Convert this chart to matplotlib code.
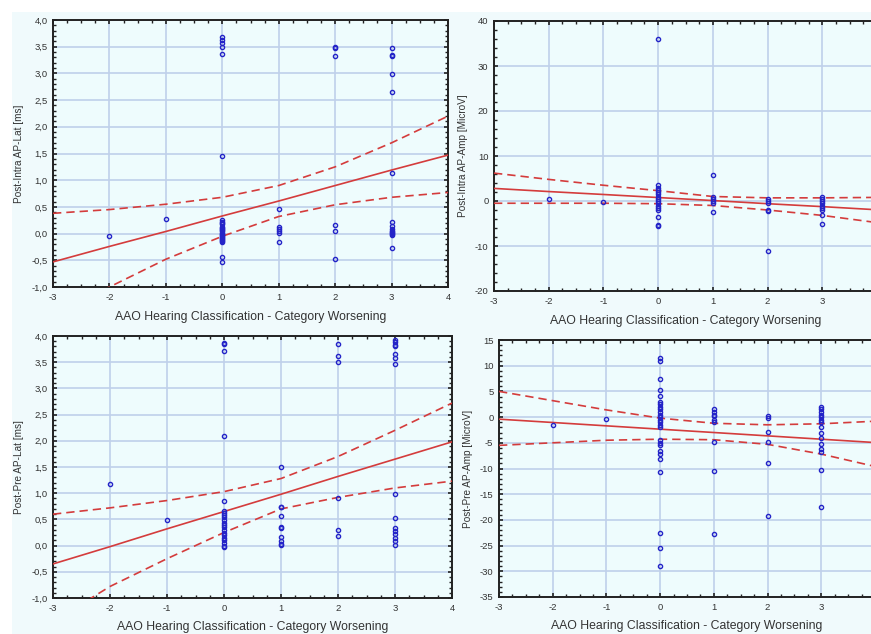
import numpy as np
import matplotlib
matplotlib.use("Agg")
import matplotlib.pyplot as plt
from matplotlib.ticker import MultipleLocator, AutoMinorLocator

plt.rcParams['font.family'] = ['Liberation Sans', 'DejaVu Sans']

XLABEL = "AAO Hearing Classification - Category Worsening"

# fit line / confidence band at x = -3..4
fit_x = [-3, -2, -1, 0, 1, 2, 3, 4]

# top left: Post-Intra AP-Lat [ms]
tl_x = [-2, -1] + [0] * 27 + [1] * 6 + [2] * 6 + [3] * 15
tl_y = [-0.05, 0.27,
        3.68, 3.63, 3.57, 3.50, 3.36, 1.45, 0.25, 0.22, 0.20, 0.18, 0.12, 0.10, 0.08, 0.06,
        0.04, 0.02, 0.0, -0.02, -0.04, -0.06, -0.08, -0.10, -0.12, -0.14, -0.16, -0.43, -0.53,
        0.47, 0.12, 0.08, 0.05, 0.02, -0.15,
        3.49, 3.48, 3.32, 0.16, 0.05, -0.48,
        3.47, 3.34, 3.33, 2.98, 2.66, 1.13, 0.22, 0.15, 0.08, 0.05, 0.03, 0.01, -0.01, -0.03, -0.27]
tl_fit = [-0.53, -0.24, 0.04, 0.33, 0.61, 0.90, 1.19, 1.47]
tl_up = [0.38, 0.45, 0.55, 0.68, 0.90, 1.25, 1.70, 2.20]
tl_lo = [-1.45, -1.00, -0.48, -0.05, 0.32, 0.54, 0.68, 0.77]

# top right: Post-Intra AP-Amp [MicroV]
tr_x = [-2, -1] + [0] * 16 + [1] * 6 + [2] * 6 + [3] * 9
tr_y = [0.5, -0.3,
        36.0, 3.5, 3.0, 2.5, 2.0, 1.5, 1.0, 0.5, 0.0, -0.5, -1.0, -1.5, -2.0, -3.5, -5.3, -5.5,
        5.8, 1.0, 0.5, 0.0, -0.5, -2.5,
        0.5, 0.0, -0.5, -2.0, -2.3, -11.0,
        1.0, 0.5, 0.0, -0.5, -1.0, -1.5, -2.0, -3.0, -5.2]
tr_fit = [2.8, 2.1, 1.45, 0.77, 0.1, -0.6, -1.25, -1.95]
tr_up = [6.2, 4.8, 3.5, 2.3, 1.0, 0.7, 0.7, 0.8]
tr_lo = [-0.5, -0.5, -0.5, -0.6, -1.0, -2.0, -3.2, -4.8]

# bottom left: Post-Pre AP-Lat [ms]
bl_x = [-2, -1] + [0] * 21 + [1] * 10 + [2] * 6 + [3] * 15
bl_y = [1.18, 0.48,
        3.87, 3.85, 3.72, 2.10, 0.85, 0.66, 0.62, 0.58, 0.55, 0.48, 0.44, 0.40, 0.35, 0.30,
        0.25, 0.20, 0.15, 0.10, 0.05, 0.0, -0.03,
        1.50, 0.74, 0.73, 0.56, 0.36, 0.34, 0.17, 0.08, 0.03, 0.02,
        3.84, 3.62, 3.51, 0.90, 0.30, 0.18,
        3.92, 3.88, 3.83, 3.80, 3.65, 3.58, 3.47, 0.98, 0.52, 0.33, 0.28, 0.22, 0.15, 0.08, 0.02]
bl_fit = [-0.35, -0.02, 0.32, 0.65, 0.98, 1.32, 1.65, 1.98]
bl_up = [0.60, 0.72, 0.86, 1.03, 1.28, 1.70, 2.20, 2.72]
bl_lo = [-1.45, -0.78, -0.25, 0.25, 0.70, 0.92, 1.10, 1.23]

# bottom right: Post-Pre AP-Amp [MicroV]
br_x = [-2, -1] + [0] * 26 + [1] * 9 + [2] * 6 + [3] * 15
br_y = [-1.5, -0.3,
        11.5, 11.0, 7.5, 5.3, 4.2, 3.0, 2.5, 2.0, 1.5, 1.0, 0.5, 0.0, -0.5, -1.0, -1.5, -2.0,
        -4.5, -5.0, -5.5, -6.5, -7.2, -8.2, -10.7, -22.5, -25.4, -28.9,
        1.5, 1.0, 0.5, 0.2, -0.5, -1.0, -4.9, -10.5, -22.8,
        0.2, -0.2, -2.9, -4.9, -8.9, -19.2,
        2.0, 1.5, 1.0, 0.5, 0.0, -0.5, -1.0, -2.0, -3.0, -4.0, -5.2, -6.2, -6.7, -10.2, -17.4]
br_fit = [-0.4, -1.05, -1.7, -2.35, -3.0, -3.65, -4.3, -4.95]
br_up = [5.0, 3.2, 1.4, -0.2, -1.2, -1.5, -1.3, -0.8]
br_lo = [-5.5, -5.0, -4.5, -4.3, -4.4, -5.3, -7.2, -9.6]

x_ticks = [-3, -2, -1, 0, 1, 2, 3, 4]
x_labels_left = ["-3", "-2", "-1", "0", "1", "2", "3", "4"]
x_labels_right = ["-3", "-2", "-1", "0", "1", "2", "3", ""]  # "4" falls off the crop

panels = [
    # x, y, fit, up, lo, ylabel, ylim, ystep, comma, xlabels, box px (left, top, right, bottom), xlabelpad
    (tl_x, tl_y, tl_fit, tl_up, tl_lo, "Post-Intra AP-Lat [ms]", (-1, 4), 0.5, True, x_labels_left, (53, 20, 448, 287), 7),
    (tr_x, tr_y, tr_fit, tr_up, tr_lo, "Post-Intra AP-Amp [MicroV]", (-20, 40), 10, False, x_labels_right, (494, 21, 877, 291), 7),
    (bl_x, bl_y, bl_fit, bl_up, bl_lo, "Post-Pre AP-Lat [ms]", (-1, 4), 0.5, True, x_labels_left, (53, 336, 452, 598), 6),
    (br_x, br_y, br_fit, br_up, br_lo, "Post-Pre AP-Amp [MicroV]", (-35, 15), 5, False, x_labels_right, (499, 340, 875, 597), 6),
]

W, H = 871, 634
fig = plt.figure(figsize=(W / 100, H / 100), dpi=100, facecolor='white')
fig.patches.append(plt.Rectangle((12 / W, 0), 1, 1 - 12 / H, transform=fig.transFigure,
                                 facecolor='#f0fafc', edgecolor='none', zorder=-10))

red = '#d43c3c'
for xs, ys, fit, up, lo, ylab, ylim, ystep, comma, xlabs, (l, t, r, b), xpad in panels:
    ax = fig.add_axes([l / W, 1 - b / H, (r - l) / W, (b - t) / H])
    ax.set_facecolor('#eefcfd')
    ax.set_xlim(-3, 4)
    ax.set_ylim(*ylim)
    ax.set_xticks(x_ticks)
    ax.set_xticklabels(xlabs)
    ax.xaxis.set_minor_locator(AutoMinorLocator(4))
    ax.yaxis.set_major_locator(MultipleLocator(ystep))
    ax.yaxis.set_minor_locator(AutoMinorLocator(5))
    if comma:
        ax.yaxis.set_major_formatter(plt.FuncFormatter(lambda v, p: f"{v:.1f}".replace('.', ',')))
    else:
        ax.yaxis.set_major_formatter(plt.FuncFormatter(lambda v, p: f"{v:.0f}"))
    ax.grid(True, which='major', color='#bfd0ea', lw=1.2)
    ax.set_axisbelow(True)
    for s in ax.spines.values():
        s.set_linewidth(1.4)
        s.set_color('#222222')
    ax.tick_params(which='both', direction='in', top=True, right=True,
                   labelsize=6.8, labelcolor='#333333', color='#222222', pad=4)
    ax.tick_params(which='major', length=3, width=1.2)
    ax.tick_params(which='minor', length=2, width=1)

    ax.plot(fit_x, fit, color=red, lw=1.2, zorder=3)
    ax.plot(fit_x, up, color=red, lw=1.2, ls=(0, (5, 3)), zorder=3)
    ax.plot(fit_x, lo, color=red, lw=1.2, ls=(0, (5, 3)), zorder=3)
    ax.plot(xs, ys, 'o', ms=3.0, mfc='none', mec='#2424c8', mew=1.0, zorder=4)

    ax.set_ylabel(ylab, fontsize=7.2, color='#333333', labelpad=5)
    ax.set_xlabel(XLABEL, fontsize=8.8, color='#333333', labelpad=xpad)

fig.savefig("out.png", dpi=100, facecolor=fig.get_facecolor())
